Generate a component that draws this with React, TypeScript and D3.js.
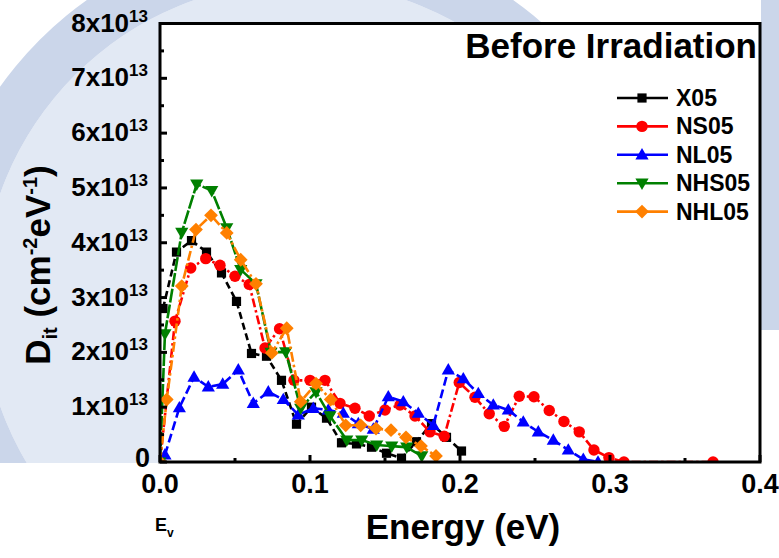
import React from 'react';
import * as d3 from 'd3';

// ---- data (energy in eV above Ev, Dit in units of 1e13 cm^-2 eV^-1) ----
const energyX05 = [0.002, 0.011, 0.021, 0.031, 0.041, 0.051, 0.061, 0.071, 0.081, 0.091, 0.101, 0.111, 0.121, 0.131, 0.141, 0.151, 0.161, 0.171, 0.181, 0.191, 0.201];
const ditX05 = [2.8, 3.83, 4.04, 3.83, 3.45, 2.93, 1.98, 1.93, 1.49, 0.69, 1.0, 0.8, 0.35, 0.33, 0.27, 0.16, 0.07, 0.37, 0.7, 0.45, 0.2];

const energyNS05 = [0, 0.01, 0.0205, 0.0305, 0.04, 0.05, 0.0595, 0.07, 0.0797, 0.0893, 0.1, 0.11, 0.12, 0.13, 0.1395, 0.15, 0.16, 0.17, 0.18, 0.1895, 0.1995, 0.21, 0.2195, 0.2295, 0.2395, 0.2493, 0.2595, 0.2693, 0.2795, 0.2893, 0.2993, 0.3093, 0.3687];
const ditNS05 = [0, 2.57, 3.54, 3.71, 3.59, 3.39, 3.24, 2.08, 2.43, 1.49, 1.49, 1.49, 1.07, 0.98, 0.84, 0.95, 1.04, 0.84, 0.55, 0.47, 1.45, 1.18, 0.88, 0.65, 1.2, 1.19, 0.94, 0.74, 0.55, 0.22, 0.08, 0, 0];

const energyNL05 = [0.0033, 0.0129, 0.0227, 0.0322, 0.0418, 0.0522, 0.0622, 0.0722, 0.0822, 0.0922, 0.1022, 0.1122, 0.1222, 0.1322, 0.1422, 0.1522, 0.1622, 0.1722, 0.1822, 0.1922, 0.2022, 0.2122, 0.2222, 0.2322, 0.2422, 0.2522, 0.2622, 0.2722, 0.2822, 0.292];
const ditNL05 = [0.13, 0.99, 1.55, 1.37, 1.42, 1.68, 1.07, 1.28, 1.14, 0.86, 0.98, 0.95, 0.89, 0.7, 0.6, 1.19, 1.1, 0.89, 0.67, 1.68, 1.52, 1.25, 1.04, 0.95, 0.73, 0.55, 0.4, 0.22, 0.05, 0];

const energyNHS05 = [0, 0.0033, 0.0145, 0.0245, 0.0345, 0.0445, 0.0538, 0.064, 0.074, 0.0838, 0.0938, 0.104, 0.1133, 0.1245, 0.1345, 0.1445, 0.1545, 0.1645, 0.1745];
const ditNHS05 = [0, 2.34, 4.19, 5.07, 4.95, 4.27, 3.51, 3.25, 2.0, 2.01, 0.98, 1.28, 0.84, 0.4, 0.4, 0.31, 0.29, 0.27, 0.11];

const energyNHL05 = [0, 0.0045, 0.0145, 0.024, 0.034, 0.0445, 0.0538, 0.064, 0.0745, 0.0845, 0.0938, 0.104, 0.1138, 0.1238, 0.1338, 0.144, 0.154, 0.164, 0.174, 0.184];
const ditNHL05 = [0, 1.14, 3.21, 4.24, 4.5, 4.18, 3.69, 3.25, 1.99, 2.44, 1.1, 1.43, 1.14, 0.67, 0.67, 0.61, 0.58, 0.45, 0.29, 0.11];

const seriesNames = ['X05', 'NS05', 'NL05', 'NHS05', 'NHL05'];

const xTickValues = [0, 0.1, 0.2, 0.3, 0.4];
const xTickLabels = ['0.0', '0.1', '0.2', '0.3', '0.4'];
const xMinorValues = [0.05, 0.15, 0.25, 0.35];
const yTickValues = [0, 1, 2, 3, 4, 5, 6, 7, 8];
const yTickMantissa = ['0', '1', '2', '3', '4', '5', '6', '7', '8'];
const yMinorValues = [0.5, 1.5, 2.5, 3.5, 4.5, 5.5, 6.5, 7.5];

const chartTitle = 'Before Irradiation';

// ---- layout ----
const W = 779;
const H = 558;
const plot = { left: 160, right: 760, top: 23.5, bottom: 462 };
const FONT = '"Liberation Sans", Arial, Helvetica, sans-serif';

const xScale = d3.scaleLinear().domain([0, 0.4]).range([plot.left, plot.right]);
const yScale = d3.scaleLinear().domain([0, 8]).range([plot.bottom, plot.top]);

type Shape = 'square' | 'circle' | 'up' | 'down' | 'diamond';

const markerPath: Record<Shape, string> = {
  square: 'M-4.6,-4.6h9.2v9.2h-9.2z',
  circle: d3.symbol().type(d3.symbolCircle).size(Math.PI * 5.7 * 5.7)() as string,
  up: 'M0,-6.8L6.6,4.6L-6.6,4.6Z',
  down: 'M0,6.8L6.6,-4.6L-6.6,-4.6Z',
  diamond: 'M0,-6.9L6.9,0L0,6.9L-6.9,0Z',
};

const seriesStyle = [
  { color: '#000000', dash: '7,4', shape: 'square' as Shape },
  { color: '#ff0000', dash: '9,3,2.5,3', shape: 'circle' as Shape },
  { color: '#0000ff', dash: '9,4', shape: 'up' as Shape },
  { color: '#008000', dash: '14,2', shape: 'down' as Shape },
  { color: '#ff8000', dash: '10,3,2.5,3', shape: 'diamond' as Shape },
];

const seriesData = [
  [energyX05, ditX05],
  [energyNS05, ditNS05],
  [energyNL05, ditNL05],
  [energyNHS05, ditNHS05],
  [energyNHL05, ditNHL05],
].map(([xs, ys]) => xs.map((x, i) => ({ x, y: ys[i] })));

const lineGen = d3
  .line<{ x: number; y: number }>()
  .x((d) => xScale(d.x))
  .y((d) => yScale(d.y));

// faint emblem printed on the page behind the figure
const emblemArc = d3.arc()({ innerRadius: 318, outerRadius: 368, startAngle: 0, endAngle: 2 * Math.PI }) as string;
const emblemDisc = d3.arc()({ innerRadius: 0, outerRadius: 318, startAngle: 0, endAngle: 2 * Math.PI }) as string;

export default function App() {
  const legendX = 617;
  const legendY0 = 98;
  const legendStep = 28.4;

  return (
    <svg
      width={W}
      height={H}
      viewBox={`0 0 ${W} ${H}`}
      style={{ position: 'absolute', left: 0, top: 0, background: '#ffffff' }}
      fontFamily={FONT}
      fontWeight="bold"
    >
      <defs>
        <clipPath id="plotClip">
          <rect x={plot.left} y={plot.top} width={plot.right - plot.left} height={plot.bottom - plot.top} />
        </clipPath>
        <clipPath id="emblemClip">
          <rect x={0} y={0} width={W} height={463} />
        </clipPath>
      </defs>
      <rect x={0} y={0} width={W} height={H} fill="#ffffff" />

      {/* background emblem */}
      <g clipPath="url(#emblemClip)">
        <g transform="translate(300,300)">
          <path d={emblemDisc} fill="#e2e9f4" />
          <path d={emblemArc} fill="#cbd6ea" />
        </g>
        <rect x={761} y={0} width={18} height={330} fill="#cbd6ea" />
      </g>

      {/* plot area background */}
      <rect
        x={plot.left}
        y={plot.top}
        width={plot.right - plot.left}
        height={plot.bottom - plot.top}
        fill="#ffffff"
      />

      {/* series lines and markers */}
      <g clipPath="url(#plotClip)">
        {seriesData.map((pts, si) => (
          <g key={seriesNames[si]}>
            <path
              d={lineGen(pts) as string}
              fill="none"
              stroke={seriesStyle[si].color}
              strokeWidth={2.6}
              strokeDasharray={seriesStyle[si].dash}
              strokeLinejoin="round"
            />
            {pts.map((p, i) => (
              <path
                key={i}
                d={markerPath[seriesStyle[si].shape]}
                transform={`translate(${xScale(p.x)},${yScale(p.y)})`}
                fill={seriesStyle[si].color}
              />
            ))}
          </g>
        ))}
      </g>

      {/* frame */}
      <rect
        x={plot.left}
        y={plot.top}
        width={plot.right - plot.left}
        height={plot.bottom - plot.top}
        fill="none"
        stroke="#000"
        strokeWidth={3}
      />

      {/* x ticks (inward) */}
      {xTickValues.map((v) => (
        <line key={'xt' + v} x1={xScale(v)} x2={xScale(v)} y1={plot.bottom} y2={plot.bottom - 7} stroke="#000" strokeWidth={3} />
      ))}
      {xMinorValues.map((v) => (
        <line key={'xm' + v} x1={xScale(v)} x2={xScale(v)} y1={plot.bottom} y2={plot.bottom - 4} stroke="#000" strokeWidth={3} />
      ))}
      {/* y ticks (inward) */}
      {yTickValues.map((v) => (
        <line key={'yt' + v} x1={plot.left} x2={plot.left + 7} y1={yScale(v)} y2={yScale(v)} stroke="#000" strokeWidth={3} />
      ))}
      {yMinorValues.map((v) => (
        <line key={'ym' + v} x1={plot.left} x2={plot.left + 4} y1={yScale(v)} y2={yScale(v)} stroke="#000" strokeWidth={3} />
      ))}

      {/* x tick labels */}
      {xTickValues.map((v, i) => (
        <text key={'xl' + v} x={xScale(v)} y={493} fontSize={27} textAnchor="middle" fill="#000">
          {xTickLabels[i]}
        </text>
      ))}

      {/* y tick labels */}
      {yTickValues.map((v, i) =>
        v === 0 ? (
          <text key={'yl' + v} x={150} y={yScale(v) + 5} fontSize={27} textAnchor="end" fill="#000">
            {yTickMantissa[i]}
          </text>
        ) : (
          <text key={'yl' + v} x={148} y={yScale(v) + 8} fontSize={26} textAnchor="end" fill="#000">
            {yTickMantissa[i]}x10
            <tspan fontSize={17} dy={-10}>13</tspan>
          </text>
        )
      )}

      {/* Ev marker under origin */}
      <text x={155} y={531} fontSize={18} fill="#000">
        E<tspan fontSize={12} dy={6}>v</tspan>
      </text>

      {/* axis titles */}
      <text x={463} y={539} fontSize={35} textAnchor="middle" fill="#000">
        Energy (eV)
      </text>
      <text transform="translate(50,265) rotate(-90)" fontSize={35} textAnchor="middle" fill="#000">
        D<tspan fontSize={20} dy={7}>it</tspan>
        <tspan dy={-7}> (cm</tspan>
        <tspan fontSize={20} dy={-13}>-2</tspan>
        <tspan dy={13}>eV</tspan>
        <tspan fontSize={20} dy={-13}>-1</tspan>
        <tspan dy={13}>)</tspan>
      </text>

      {/* chart title */}
      <text x={757} y={58} fontSize={35} textAnchor="end" fill="#000">
        {chartTitle}
      </text>

      {/* legend */}
      {seriesNames.map((name, i) => {
        const cy = legendY0 + i * legendStep;
        const st = seriesStyle[i];
        return (
          <g key={'lg' + name}>
            <line x1={legendX} x2={legendX + 51} y1={cy} y2={cy} stroke={st.color} strokeWidth={2.6} />
            <path d={markerPath[st.shape]} transform={`translate(${legendX + 25},${cy})`} fill={st.color} />
            <text x={676} y={cy + 8} fontSize={23} fill="#000">
              {name}
            </text>
          </g>
        );
      })}
    </svg>
  );
}
